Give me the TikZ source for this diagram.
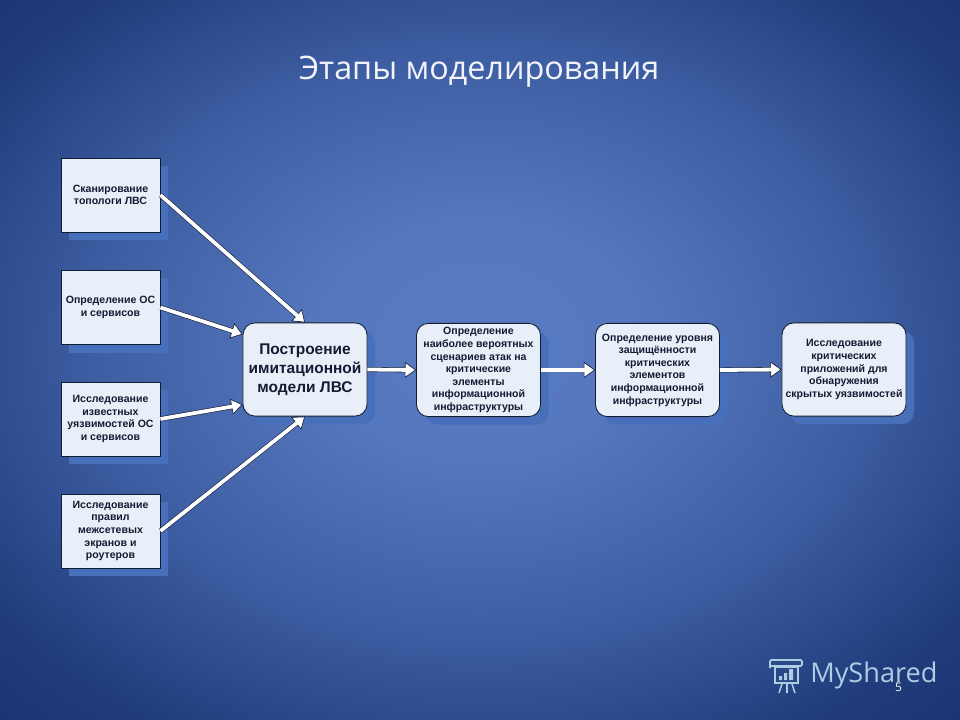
\documentclass[tikz,border=0pt]{standalone}
\usepackage{fontspec}
\setmainfont{Liberation Sans}
\newfontfamily\titlefont{Open Sans}
\usetikzlibrary{arrows.meta, shadows, calc}
\definecolor{slidemid}{RGB}{88, 122, 192}
\definecolor{slidehalf}{RGB}{62, 94, 163}
\definecolor{slideedge}{RGB}{32, 60, 124}
\definecolor{slidecorner}{RGB}{20, 44, 104}
\definecolor{boxfill}{RGB}{233, 239, 248}
\definecolor{boxedge}{RGB}{18, 28, 50}
\definecolor{shadowblue}{RGB}{72, 112, 186}
\definecolor{logoblue}{RGB}{172, 205, 226}
\pgfdeclareradialshading{slideglow}{\pgfpoint{0bp}{1.5bp}}{
  color(0bp)=(slidemid); color(8bp)=(slidemid!92!slidehalf);
  color(20bp)=(slidehalf); color(31bp)=(slideedge); color(42bp)=(slidecorner); color(75bp)=(slidecorner)}
\tikzset{
  srcbox/.style={draw=boxedge, line width=0.6pt, fill=boxfill, minimum width=2.475cm, minimum height=1.85cm,
    inner sep=1pt, align=center, font=\fontsize{7.5}{8.95}\selectfont\bfseries, text=boxedge,
    copy shadow={draw=none, fill=shadowblue, shadow xshift=0.2cm, shadow yshift=-0.2cm}},
  stagebox/.style={srcbox, rounded corners=0.3cm, minimum width=3.1cm, minimum height=2.33cm},
  flowarrow/.style={draw=white, line width=2.7pt, shorten >=0.2cm,
    preaction={draw=boxedge, line width=3.5pt, shorten >=0cm,
      -{Triangle[length=0.28cm, width=0.4cm, fill=white, line width=0.45pt]}}}
}
\begin{document}
\begin{tikzpicture}[x=0.025cm, y=-0.025cm]
  \path[use as bounding box, shading=slideglow] (0,0) rectangle (960,720);
  \node[font=\titlefont\fontsize{23}{26}\selectfont, text=white!92!slidemid] (title) at (479,72) {Этапы моделирования};

  % Source boxes
  \node[srcbox] (scan) at (110.5,195) {Сканирование\\топологи ЛВС};
  \node[srcbox] (hosts) at (110.5,307.5) {Определение ОС\\и сервисов};
  \node[srcbox] (vulns) at (110.5,419) {Исследование\\известных\\уязвимостей ОС\\и сервисов};
  \node[srcbox] (rules) at (110.5,531) {Исследование\\правил\\межсетевых\\экранов и\\роутеров};

  % Stage boxes
  \node[stagebox, font=\fontsize{11}{13.5}\selectfont\bfseries] (model) at (305,369.5) {Построение\\имитационной\\модели ЛВС};
  \node[stagebox] (attacks) at (478.5,370) {Определение\\наиболее вероятных\\сценариев атак на\\критические\\элементы\\информационной\\инфраструктуры};
  \node[stagebox] (level) at (657.5,370) {Определение уровня\\защищённости\\критических\\элементов\\информационной\\инфраструктуры};
  \node[stagebox] (apps) at (844,369.5) {Исследование\\критических\\приложений для\\обнаружения\\скрытых уязвимостей};

  % Arrows
  \draw[flowarrow] (scan.east) -- (model.north);
  \draw[flowarrow] (hosts.east) -- ([yshift=0.88cm]model.west);
  \draw[flowarrow] (vulns.east) -- ([yshift=-0.88cm]model.west);
  \draw[flowarrow] (rules.east) -- (model.south);
  \draw[flowarrow] (model.east) -- (attacks.west);
  \draw[flowarrow] (attacks.east) -- (level.west);
  \draw[flowarrow] (level.east) -- (apps.west);

  % Watermark
  \node[font=\titlefont\fontsize{19.3}{24}\selectfont, text=logoblue, anchor=west, inner sep=0pt] (brand) at (810,675) {MyShared};
  \draw[logoblue, line width=1.2pt, rounded corners=1pt] (770,668) -- (770,660) -- (802,660) -- (802,666) -- (770,666);
  \draw[logoblue, line width=1.2pt] (775,667) rectangle (798,683);
  \fill[logoblue] (779,676) rectangle (782,680) (784,673) rectangle (787,680) (789,669) rectangle (793,680);
  \draw[logoblue, line width=1.1pt] (782,684) -- (779,693) (787,684) -- (787,693) (792,684) -- (795,693);
  \node[font=\titlefont\fontsize{8.5}{10}\selectfont, text=white, inner sep=0pt] (pageno) at (898.5,687) {5};
\end{tikzpicture}
\end{document}
